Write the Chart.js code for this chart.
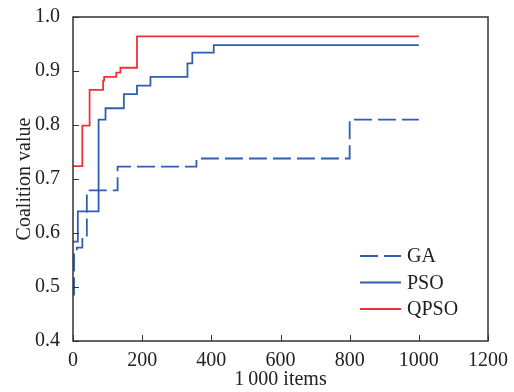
<!DOCTYPE html>
<html>
<head>
<meta charset="utf-8">
<script src="https://cdn.jsdelivr.net/npm/chart.js@4.4.0/dist/chart.umd.min.js"></script>
<style>
  body { margin: 0; background: #fff; }
  canvas { display: block; }
</style>
</head>
<body>
<canvas id="grafico" width="514" height="392"></canvas>
<script>
// valores (curvas em degrau)
const gaX   = [0, 3, 11, 27, 40, 129, 357, 800, 1000];
const gaY   = [0.486, 0.566, 0.573, 0.595, 0.679, 0.723, 0.738, 0.81, 0.81];
const psoX  = [0, 14, 74, 94, 147, 185, 224, 331, 345, 407, 1000];
const psoY  = [0.584, 0.640, 0.81, 0.831, 0.857, 0.873, 0.889, 0.914, 0.934, 0.948, 0.948];
const qpsoX = [0, 27, 48, 87, 90, 125, 137, 185, 1000];
const qpsoY = [0.724, 0.799, 0.865, 0.882, 0.889, 0.897, 0.906, 0.964, 0.964];

const xTicks = [0, 200, 400, 600, 800, 1000, 1200];
const yTicks = [0.4, 0.5, 0.6, 0.7, 0.8, 0.9, 1.0];

const fonte = "'Liberation Serif', 'DejaVu Serif', serif";
const azul = '#2f5fb0';
const vermelho = '#f03238';

function pontos(xs, ys) {
    return xs.map((x, i) => ({ x: x, y: ys[i] }));
}

// moldura + ticks para dentro
const molduraPlugin = {
    id: 'moldura',
    afterDatasetsDraw(chart) {
        const { ctx, chartArea: a, scales } = chart;
        ctx.save();
        ctx.strokeStyle = '#333';
        ctx.lineWidth = 1;
        ctx.beginPath();
        xTicks.forEach(v => {
            const px = Math.round(scales.x.getPixelForValue(v)) + 0.5;
            ctx.moveTo(px, a.bottom);
            ctx.lineTo(px, a.bottom - 6);
        });
        yTicks.forEach(v => {
            const py = Math.round(scales.y.getPixelForValue(v)) + 0.5;
            ctx.moveTo(a.left, py);
            ctx.lineTo(a.left + 6, py);
        });
        ctx.stroke();
        ctx.lineWidth = 1.5;
        ctx.strokeRect(a.left, a.top, a.right - a.left, a.bottom - a.top);
        ctx.restore();
    }
};

// legenda no canto inferior direito
const legendaPlugin = {
    id: 'legenda',
    afterDraw(chart) {
        const { ctx } = chart;
        ctx.save();
        ctx.font = '20px ' + fonte;
        ctx.textBaseline = 'middle';
        ctx.fillStyle = '#222';
        chart.data.datasets.forEach((ds, i) => {
            const y = 256 + i * 26.5;
            ctx.strokeStyle = ds.borderColor;
            ctx.lineWidth = ds.borderWidth;
            ctx.setLineDash(ds.borderDash || []);
            ctx.beginPath();
            ctx.moveTo(360, y);
            ctx.lineTo(401, y);
            ctx.stroke();
            ctx.setLineDash([]);
            ctx.fillText(ds.label, 407, y + 1);
        });
        ctx.restore();
    }
};

new Chart(document.getElementById('grafico').getContext('2d'), {
    type: 'line',
    data: {
        datasets: [
            { label: 'GA', data: pontos(gaX, gaY), borderColor: azul, borderWidth: 1.8, borderDash: [18, 6], stepped: true, pointRadius: 0, fill: false },
            { label: 'PSO', data: pontos(psoX, psoY), borderColor: azul, borderWidth: 1.8, stepped: true, pointRadius: 0, fill: false },
            { label: 'QPSO', data: pontos(qpsoX, qpsoY), borderColor: vermelho, borderWidth: 1.8, stepped: true, pointRadius: 0, fill: false }
        ]
    },
    options: {
        responsive: false,
        animation: false,
        devicePixelRatio: 1,
        layout: { padding: { top: 15, right: 26, left: 0, bottom: 0 } },
        plugins: { legend: { display: false }, tooltip: { enabled: false } },
        scales: {
            x: {
                type: 'linear',
                min: 0,
                max: 1200,
                afterBuildTicks: s => { s.ticks = xTicks.map(v => ({ value: v })); },
                afterFit: s => { s.height = 51; },
                grid: { display: false },
                border: { display: false },
                ticks: { color: '#222', font: { family: fonte, size: 20 }, padding: 0, maxRotation: 0, callback: v => String(v) },
                title: { display: true, text: '1\u2009000 items', color: '#222', font: { family: fonte, size: 20 }, padding: { top: -2, bottom: 0 } }
            },
            y: {
                min: 0.4,
                max: 1.0,
                afterBuildTicks: s => { s.ticks = yTicks.map(v => ({ value: v })); },
                afterFit: s => { s.width = 73; },
                grid: { display: false },
                border: { display: false },
                ticks: { color: '#222', font: { family: fonte, size: 20 }, padding: 5, callback: v => v.toFixed(1) },
                title: { display: true, text: 'Coalition value', color: '#222', font: { family: fonte, size: 20 }, padding: { top: 13, bottom: 0 } }
            }
        }
    },
    plugins: [molduraPlugin, legendaPlugin]
});
</script>
</body>
</html>
